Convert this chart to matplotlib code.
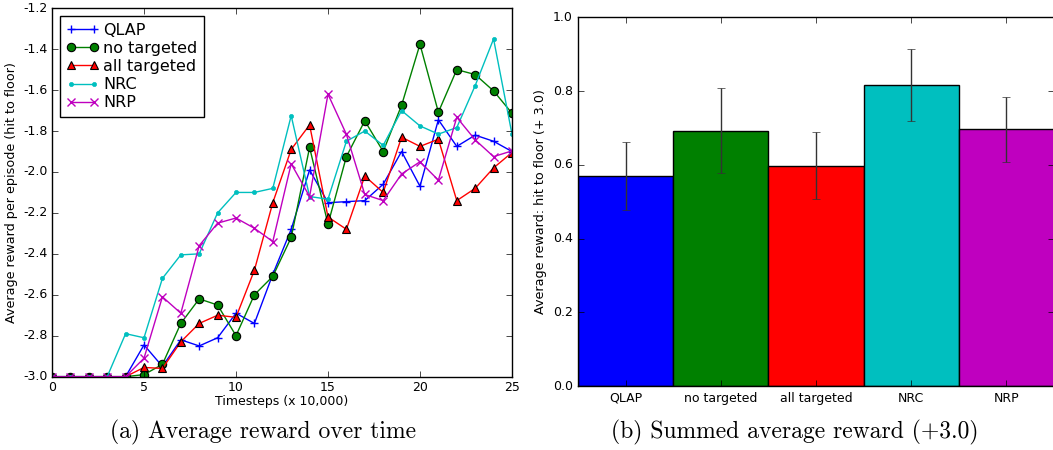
import matplotlib
matplotlib.use('Agg')
import matplotlib.pyplot as plt
import numpy as np

plt.style.use('classic')
plt.rcParams['axes.unicode_minus'] = False

steps = list(range(26))

qlap = [-3.0, -3.0, -3.0, -3.0, -3.0, -2.845, -2.95, -2.82, -2.85, -2.81, -2.69, -2.74, -2.50,
        -2.28, -1.99, -2.15, -2.145, -2.14, -2.06, -1.90, -2.07, -1.745, -1.875, -1.82, -1.85, -1.90]
no_targeted = [-3.0, -3.0, -3.0, -3.0, -3.0, -2.99, -2.94, -2.74, -2.62, -2.65, -2.80, -2.60, -2.51,
               -2.32, -1.88, -2.255, -1.925, -1.75, -1.90, -1.674, -1.376, -1.708, -1.50, -1.524, -1.604, -1.713]
all_targeted = [-3.0, -3.0, -3.0, -3.0, -3.0, -2.955, -2.96, -2.83, -2.74, -2.70, -2.71, -2.48, -2.15,
                -1.89, -1.77, -2.22, -2.28, -2.02, -2.10, -1.83, -1.875, -1.84, -2.14, -2.08, -1.98, -1.905]
nrc = [-3.0, -3.0, -3.0, -3.0, -2.79, -2.81, -2.52, -2.405, -2.40, -2.20, -2.10, -2.10, -2.08,
       -1.725, -2.12, -2.133, -1.85, -1.80, -1.87, -1.70, -1.775, -1.815, -1.783, -1.578, -1.35, -1.815]
nrp = [-3.0, -3.0, -3.0, -3.0, -3.0, -2.91, -2.61, -2.69, -2.36, -2.25, -2.225, -2.275, -2.34,
       -1.96, -2.12, -1.62, -1.816, -2.11, -2.14, -2.01, -1.95, -2.04, -1.733, -1.843, -1.925, -1.897]

methods = ['QLAP', 'no targeted', 'all targeted', 'NRC', 'NRP']
summed = [0.570, 0.692, 0.597, 0.816, 0.696]
summed_err = [0.092, 0.115, 0.091, 0.097, 0.089]
bar_colors = ['#0000ff', '#008000', '#ff0000', '#00bfbf', '#bf00bf']

fig = plt.figure(figsize=(10.53, 4.5), dpi=100, facecolor='white')

# (a) reward over time
ax1 = fig.add_axes([0.0494, 0.163, 0.4368, 0.8187])
ax1.plot(steps, qlap, color='b', ls='-', marker='+', label='QLAP', ms=6, mew=1)
ax1.plot(steps, no_targeted, color='g', ls='-', marker='o', label='no targeted', ms=6, mec='k', mew=0.8)
ax1.plot(steps, all_targeted, color='r', ls='-', marker='^', label='all targeted', ms=6, mec='k', mew=0.8)
ax1.plot(steps, nrc, color='c', ls='-', marker='.', label='NRC', ms=6, mec='c')
ax1.plot(steps, nrp, color='m', ls='-', marker='x', label='NRP', ms=6, mew=1)
ax1.set_xlim(0, 25)
ax1.set_ylim(-3.0, -1.2)
ax1.set_xticks([0, 5, 10, 15, 20, 25])
ax1.set_yticks(np.arange(-3.0, -1.19, 0.2))
ax1.tick_params(labelsize=9, pad=3)
ax1.set_xlabel('Timesteps (x 10,000)', fontsize=9, labelpad=1)
ax1.set_ylabel('Average reward per episode (hit to floor)', fontsize=9.2, labelpad=4)
ax1.legend(loc='upper left', fontsize=11.5, numpoints=2, borderaxespad=0.5,
           handletextpad=0.3, labelspacing=0.2, fancybox=False)

# (b) summed reward
ax2 = fig.add_axes([0.5492, 0.1422, 0.4515, 0.8193])
xpos = np.arange(len(methods))
ax2.bar(xpos, summed, width=1.0, align='edge', color=bar_colors, edgecolor='k', linewidth=1)
ax2.errorbar(xpos + 0.5, summed, yerr=summed_err, fmt='none', ecolor='#333333', capsize=3, elinewidth=1)
ax2.set_xlim(0, 5)
ax2.set_ylim(0, 1.0)
ax2.set_xticks(xpos + 0.5)
ax2.set_xticklabels(methods)
ax2.set_yticks(np.arange(0, 1.01, 0.2))
ax2.tick_params(labelsize=9)
ax2.set_ylabel('Average reward: hit to floor (+ 3.0)', fontsize=9.2, labelpad=4)

fig.text(0.25, 0.038, '(a) Average reward over time', ha='center', va='center',
         fontsize=17, family='cmr10')
fig.text(0.755, 0.038, '(b) Summed average reward (+3.0)', ha='center', va='center',
         fontsize=17, family='cmr10')

fig.savefig('out.png', dpi=100, facecolor='white')
